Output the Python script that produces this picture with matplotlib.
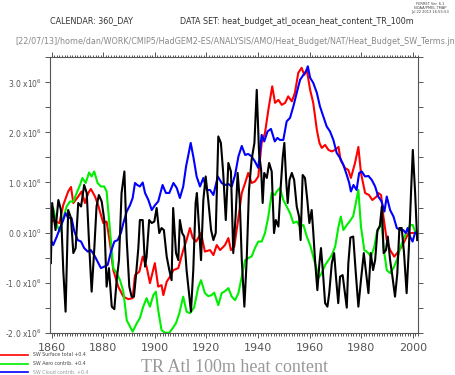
"""Ferret-style line plot: TR Atl 100m heat content, SW terms."""

import matplotlib

matplotlib.use("Agg")
import matplotlib.pyplot as plt
from matplotlib.ticker import FuncFormatter, MultipleLocator

# values in units of 1e6
red_years = [1859.7, 1861.3, 1863.0, 1864.5, 1866.4, 1867.5, 1868.4, 1870.3, 1871.6, 1872.9,
             1874.2, 1875.2, 1876.8, 1878.0, 1880.0, 1881.3, 1882.6, 1883.9, 1885.8, 1887.8,
             1889.7, 1891.4, 1892.3, 1894.0, 1895.3, 1896.8, 1898.1, 1900.0, 1901.3, 1902.6,
             1903.3, 1904.6, 1905.9, 1907.2, 1909.1, 1911.0, 1912.3, 1913.6, 1914.7, 1916.0,
             1917.9, 1919.4, 1921.4, 1922.7, 1924.0, 1925.3, 1927.2, 1928.5, 1929.5, 1930.8,
             1932.1, 1933.7, 1935.0, 1936.2, 1937.5, 1938.8, 1940.1, 1941.4, 1942.7, 1944.0,
             1945.5, 1946.6, 1947.9, 1949.2, 1950.5, 1951.7, 1953.1, 1954.3, 1955.6, 1956.9,
             1957.9, 1958.9, 1960.2, 1961.4, 1962.8, 1963.8, 1964.7, 1966.0, 1967.3, 1968.6,
             1969.9, 1971.2, 1972.0, 1973.7, 1975.0, 1976.0, 1977.6, 1978.9, 1979.9, 1981.5,
             1983.0, 1984.3, 1986.0, 1986.6, 1987.7, 1988.6, 1989.9, 1991.2, 1992.8, 1994.4,
             1995.7, 1997.0, 1998.3, 1999.6, 2001.6]
red_values = [0.25, 0.22, 0.19, 0.55, 0.82, 0.91, 0.59, 0.72, 0.82, 0.59,
              0.79, 0.87, 0.72, 0.55, 0.19, 0.22, -0.21, -0.75, -1.08, -1.28,
              -1.33, -1.31, -0.85, -0.78, -0.48, -0.68, -1.01, -0.61, -1.08, -1.05,
              -1.25, -0.98, -0.88, -0.75, -0.71, -0.35, -0.15, 0.09, -0.11, -0.18,
              -0.01, -0.38, -0.35, -0.45, -0.25, -0.35, -0.25, -0.11, -0.35, -0.28,
              0.19, 0.79, 0.99, 1.19, 0.99, 1.02, 1.12, 1.79, 1.99, 2.45,
              2.92, 2.59, 2.65, 2.55, 2.59, 2.72, 2.62, 2.79, 3.19, 3.29,
              3.15, 3.25, 2.85, 2.59, 2.05, 1.79, 1.69, 1.75, 1.65, 1.62,
              1.65, 1.71, 1.45, 1.29, 1.25, 1.09, 1.39, 1.71, 1.19, 0.79,
              0.75, 0.65, 0.72, 0.79, 0.75, 0.32, -0.15, -0.35, -0.48, -0.38,
              -0.28, -0.15, -0.01, -0.01, 0.0]

green_years = [1859.7, 1860.6, 1862.0, 1863.2, 1864.5, 1865.8, 1867.1, 1868.4, 1869.7, 1871.0,
               1871.9, 1873.2, 1874.5, 1875.5, 1876.5, 1877.8, 1879.1, 1880.4, 1881.3, 1882.6,
               1883.9, 1885.2, 1886.5, 1887.8, 1889.1, 1890.4, 1891.4, 1893.0, 1894.2, 1895.5,
               1896.8, 1898.1, 1899.4, 1900.4, 1901.3, 1902.6, 1903.9, 1905.6, 1906.9, 1908.2,
               1909.5, 1911.0, 1912.3, 1913.6, 1915.2, 1916.8, 1917.9, 1919.4, 1920.7, 1922.0,
               1923.0, 1924.6, 1925.9, 1927.2, 1928.5, 1929.8, 1931.1, 1932.4, 1933.7, 1935.0,
               1936.2, 1937.5, 1938.8, 1940.1, 1941.4, 1942.7, 1944.0, 1945.3, 1946.6, 1947.2,
               1948.5, 1949.8, 1951.1, 1952.4, 1953.7, 1955.0, 1956.3, 1957.6, 1958.9, 1960.2,
               1961.4, 1962.8, 1963.4, 1964.7, 1966.0, 1967.3, 1968.6, 1969.9, 1971.2, 1972.1,
               1973.1, 1974.4, 1975.5, 1976.9, 1978.9, 1979.9, 1981.2, 1982.8, 1983.8, 1985.1,
               1986.0, 1987.0, 1988.0, 1988.6, 1989.9, 1991.2, 1992.5, 1993.8, 1995.1, 1996.3,
               1997.6, 1998.9, 2000.0, 2000.9]
green_values = [0.45, 0.49, 0.15, 0.02, 0.29, 0.52, 0.62, 0.62, 0.79, 0.95,
                1.09, 0.99, 1.20, 1.12, 1.22, 0.99, 0.92, 0.92, 0.82, 0.05,
                -0.71, -0.81, -0.95, -1.18, -1.75, -1.88, -1.98, -1.81, -1.71, -1.48,
                -1.31, -1.48, -1.25, -1.18, -1.55, -1.95, -2.0, -2.0, -1.91, -1.81,
                -1.61, -1.28, -1.58, -1.61, -1.50, -1.10, -0.95, -1.21, -1.27, -1.25,
                -1.20, -1.45, -1.21, -1.17, -1.11, -1.28, -1.35, -1.21, -0.88, -0.55,
                -0.51, -0.48, -0.31, -0.18, -0.18, -0.01, 0.32, 0.79, 0.75, 0.82,
                0.89, 0.65, 0.52, 0.39, 0.19, 0.22, 0.12, 0.15, -0.08, -0.25,
                -0.48, -0.75, -0.91, -0.81, -0.65, -0.55, -0.45, -0.28, 0.12, 0.32,
                0.05, 0.15, 0.22, 0.33, 0.85, 0.12, -0.35, -0.41, -0.48, -0.28,
                -0.01, 0.12, 0.19, -0.28, -0.75, -0.81, -0.71, -0.55, -0.31, -0.15,
                0.02, 0.15, 0.15, 0.02]

blue_years = [1859.7, 1860.6, 1862.0, 1863.2, 1864.5, 1865.4, 1866.4, 1867.7, 1868.8, 1870.1,
              1871.4, 1872.6, 1874.0, 1875.2, 1876.5, 1877.8, 1879.1, 1880.4, 1881.7, 1883.0,
              1884.3, 1885.6, 1886.9, 1887.8, 1889.1, 1890.4, 1891.4, 1892.3, 1893.2, 1894.2,
              1895.3, 1896.2, 1897.5, 1898.8, 1900.1, 1901.3, 1903.0, 1904.3, 1905.6, 1907.2,
              1908.5, 1909.7, 1911.0, 1912.1, 1913.0, 1913.9, 1914.9, 1916.2, 1917.5, 1918.8,
              1920.1, 1921.4, 1922.7, 1924.4, 1925.9, 1927.2, 1928.5, 1929.8, 1931.1, 1932.4,
              1933.7, 1935.0, 1936.2, 1937.5, 1938.8, 1940.1, 1941.4, 1942.4, 1943.7, 1945.0,
              1946.5, 1947.5, 1948.5, 1949.8, 1951.1, 1952.4, 1953.7, 1955.0, 1956.3, 1957.6,
              1958.6, 1959.3, 1960.2, 1961.4, 1962.8, 1964.0, 1965.3, 1966.6, 1967.9, 1969.2,
              1970.5, 1971.8, 1973.1, 1974.4, 1975.3, 1976.0, 1977.0, 1978.2, 1979.2, 1980.2,
              1981.5, 1982.8, 1984.1, 1985.4, 1986.6, 1987.9, 1989.0, 1989.9, 1991.2, 1992.5,
              1993.8, 1995.1, 1996.3, 1997.3, 1998.0, 1998.9, 1999.9, 2000.9, 2001.6]
blue_values = [-0.15, -0.25, -0.08, 0.09, 0.25, 0.39, 0.29, 0.29, 0.02, -0.15,
               -0.18, -0.31, -0.38, -0.35, -0.45, -0.58, -0.71, -0.68, -0.65, -0.38,
               -0.18, -0.15, 0.0, 0.19, 0.42, 0.55, 0.69, 0.99, 0.95, 0.92,
               1.0, 0.79, 0.65, 0.45, 0.55, 0.62, 0.95, 0.79, 0.79, 0.99,
               0.89, 0.69, 0.92, 1.32, 1.55, 1.79, 1.52, 1.12, 0.92, 1.09,
               0.85, 0.85, 0.75, 1.12, 0.99, 0.95, 0.97, 0.92, 1.15, 1.52,
               1.73, 1.55, 1.57, 1.52, 1.42, 1.29, 1.95, 1.82, 2.02, 2.07,
               1.82, 1.89, 1.85, 1.85, 2.22, 2.29, 2.52, 2.79, 3.05, 3.15,
               3.22, 3.32, 3.09, 2.99, 2.79, 2.52, 2.32, 2.12, 2.02, 1.85,
               1.59, 1.49, 1.35, 1.15, 1.0, 0.82, 0.95, 0.85, 1.19, 1.22,
               1.12, 1.13, 1.05, 0.92, 0.72, 0.62, 0.42, 0.72, 0.45, 0.32,
               0.09, 0.05, 0.05, -0.01, 0.09, -0.08, -0.18, 0.0, 0.0]

black_years = [1859.7, 1860.2, 1861.5, 1862.6, 1863.6, 1864.5, 1865.4, 1866.4, 1867.5, 1868.4,
               1869.3, 1870.3, 1871.4, 1872.6, 1873.6, 1874.5, 1875.5, 1876.5, 1877.4, 1878.3,
               1879.4, 1880.4, 1881.3, 1882.2, 1883.3, 1884.3, 1885.2, 1886.1, 1887.1, 1888.2,
               1889.1, 1890.1, 1891.0, 1891.9, 1892.7, 1893.6, 1894.2, 1895.3, 1896.2, 1896.8,
               1897.8, 1898.8, 1899.8, 1900.7, 1901.7, 1902.6, 1903.5, 1904.6, 1905.6, 1906.5,
               1907.1, 1908.2, 1909.1, 1909.7, 1910.6, 1911.4, 1912.3, 1913.4, 1914.0, 1914.9,
               1915.8, 1916.3, 1917.1, 1917.9, 1918.8, 1919.7, 1920.7, 1921.8, 1922.7, 1923.6,
               1924.6, 1925.6, 1926.5, 1927.5, 1928.5, 1929.5, 1930.4, 1931.3, 1932.1, 1932.9,
               1933.7, 1934.7, 1935.6, 1936.5, 1937.5, 1938.6, 1939.5, 1940.4, 1941.2, 1941.8,
               1942.4, 1943.4, 1944.3, 1945.3, 1946.2, 1946.9, 1947.9, 1948.8, 1949.6, 1950.2,
               1950.9, 1951.5, 1952.2, 1953.1, 1954.0, 1955.0, 1955.9, 1956.5, 1957.3, 1958.2,
               1959.1, 1959.9, 1960.8, 1961.4, 1962.1, 1963.0, 1963.8, 1964.4, 1965.1, 1966.0,
               1966.9, 1967.6, 1968.6, 1969.5, 1970.2, 1971.1, 1971.8, 1972.8, 1973.7, 1974.4,
               1975.0, 1975.8, 1976.9, 1977.9, 1978.9, 1979.9, 1981.0, 1981.9, 1982.8, 1983.7,
               1984.6, 1985.4, 1986.3, 1987.2, 1988.0, 1988.7, 1989.6, 1990.3, 1991.2, 1992.1,
               1993.1, 1994.0, 1994.8, 1995.7, 1996.6, 1997.6, 1998.5, 1999.3, 2000.0, 2000.9,
               2001.7]
black_values = [-0.61, 0.59, 0.05, 0.65, 0.45, -0.75, -1.58, 0.45, 0.29, -0.41,
                -0.31, 0.59, 0.52, 0.95, 0.79, -0.21, -1.18, -0.35, 0.52, 0.75,
                0.62, 0.25, -1.08, -0.71, -1.48, -1.53, -0.95, -0.55, 0.79, 1.22,
                -0.15, -1.08, -1.28, -1.28, -0.85, -0.31, 0.25, 0.25, -0.68, -0.48,
                0.25, 0.19, 0.22, 0.49, -0.01, 0.09, 0.05, -0.48, -0.75, -0.95,
                0.49, -0.41, -0.55, 0.25, -0.01, -0.08, -0.75, -1.28, -1.58, -0.75,
                0.59, 0.79, 0.12, -0.55, 0.65, 1.12, 0.65, 0.05, -0.15, -0.01,
                1.92, 1.79, 1.19, 0.25, 1.39, 1.22, -0.41, 0.32, 1.19, 0.65,
                -0.55, -1.48, -0.55, 0.85, 1.45, 1.79, 2.85, 1.59, 1.25, 0.59,
                1.19, 1.09, 1.39, 1.22, -0.01, 0.25, 0.12, 0.92, 1.52, 1.79,
                1.05, 0.59, 1.05, 1.19, 1.05, 0.52, 0.32, -0.15, 1.15, 1.09,
                0.65, 0.19, 0.45, 0.02, -0.55, -1.15, -0.61, -0.31, -0.75, -1.41,
                -1.48, -1.21, -0.61, -0.41, -0.88, -1.41, -0.88, -0.85, -1.21, -1.50,
                -0.62, -0.10, -0.08, -0.81, -1.48, -0.95, -0.41, -0.81, -1.21, -0.41,
                -0.75, -0.55, 0.05, 0.12, 0.52, -0.41, -0.35, -0.08, -0.55, -0.88,
                -1.28, -0.81, 0.09, 0.09, -0.41, -1.21, -0.28, 0.79, 1.65, 0.79,
                -0.15]

legend_labels = ["SW Surface total +0.4", "SW Aero contrib. +0.4", "SW Cloud contrib. +0.4"]
x_ticks = [1860, 1880, 1900, 1920, 1940, 1960, 1980, 2000]

GRAY = "#555555"


def ytick_label(v, pos):
    if abs(v) < 1e-9:
        return r"0.0 x10$^{0}$"
    return f"{v:.1f}" + r" x10$^{6}$"


fig = plt.figure(figsize=(4.56, 3.75), dpi=100)
ax = fig.add_axes([0.1096, 0.1128, 0.807, 0.7344])

line_red, = ax.plot(red_years, red_values, color="#ff0000", lw=1.5)
line_green, = ax.plot(green_years, green_values, color="#00ee00", lw=1.5)
line_blue, = ax.plot(blue_years, blue_values, color="#0000ff", lw=1.5)
ax.plot(black_years, black_values, color="black", lw=1.5)

ax.set_xlim(1859.35, 2002.0)
ax.set_ylim(-2.0, 3.5)

ax.set_xticks(x_ticks)
ax.xaxis.set_minor_locator(MultipleLocator(1))
ax.yaxis.set_major_locator(MultipleLocator(1))
ax.yaxis.set_minor_locator(MultipleLocator(0.5))
ax.yaxis.set_major_formatter(FuncFormatter(ytick_label))

ax.tick_params(axis="both", which="both", direction="out", color=GRAY, width=0.7,
               top=True, right=True)
ax.tick_params(axis="x", which="major", length=3.6, labelsize=8, labelcolor=GRAY, pad=3.5)
ax.tick_params(axis="x", which="minor", length=1.8)
ax.tick_params(axis="y", which="both", length=3.6, labelsize=5.5, labelcolor=GRAY, pad=2)
for spine in ax.spines.values():
    spine.set_color(GRAY)
    spine.set_linewidth(0.8)

# header text
fig.text(50 / 456, 1 - 21 / 375, "CALENDAR: 360_DAY", fontsize=5.8, color="#333333",
         ha="left", va="center")
fig.text(180 / 456, 1 - 21 / 375, "DATA SET: heat_budget_atl_ocean_heat_content_TR_100m",
         fontsize=5.8, color="#333333", ha="left", va="center")
fig.text(15 / 456, 1 - 42 / 375,
         "[22/07/13]/home/dan/WORK/CMIP5/HadGEM2-ES/ANALYSIS/AMO/Heat_Budget/NAT/Heat_Budget_SW_Terms.jnl",
         fontsize=5.8, color="#888888", ha="left", va="center")
for i, s in enumerate(["FERRET Ver. 6.1", "NOAA/PMEL TMAP", "Jul 22 2013 16:55:53"]):
    fig.text(430 / 456, 1 - (4 + 4 * i) / 375, s, fontsize=2.6, color="#444444",
             ha="center", va="center")

# legend lines at bottom left
for i, (line, label) in enumerate(zip([line_red, line_green, line_blue], legend_labels)):
    y = 1 - (355 + 8.5 * i) / 375
    fig.add_artist(plt.Line2D([0, 28 / 456], [y, y], color=line.get_color(), lw=1.2))
    fig.text(33 / 456, y, label, fontsize=3.4, color="#444444" if i < 2 else "#999999",
             ha="left", va="center")

fig.text(235 / 456, 1 - 367 / 375, "TR Atl 100m heat content", fontsize=13,
         family="Liberation Serif", color="#999999", ha="center", va="center")

fig.savefig("out.png", dpi=100)
